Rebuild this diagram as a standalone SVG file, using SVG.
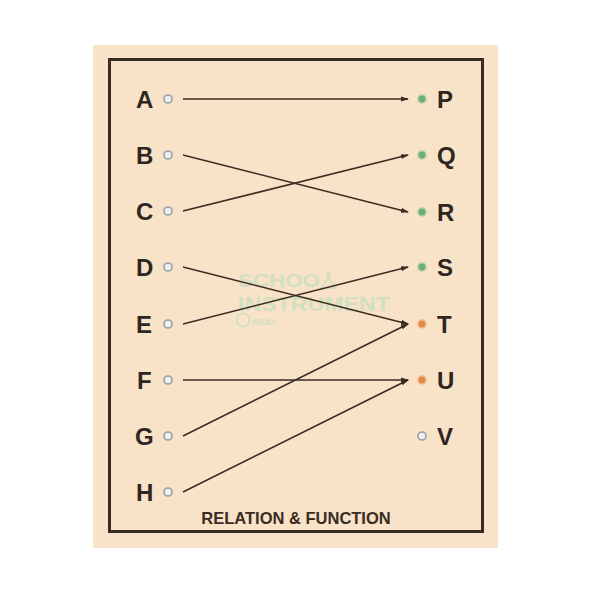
<svg xmlns="http://www.w3.org/2000/svg" width="600" height="600" viewBox="0 0 600 600">
<style>
.lbl{font-family:"Liberation Sans",Arial,sans-serif;font-weight:bold;font-size:24px;fill:#2e2620}
.dl{fill:#eef0f2;stroke:#9a9ea6;stroke-width:1.6}
.dg{fill:#6fae72;stroke:#a9cfa8;stroke-width:1.4}
.do{fill:#de8a44;stroke:#eeb88a;stroke-width:1.4}
.ln{stroke:#3a2c22;stroke-width:1.6;fill:none;marker-end:url(#ah)}
.wm{font-family:"Liberation Sans",Arial,sans-serif;font-weight:bold;fill:#cbe0bf;opacity:0.85}
</style>
<defs>
<marker id="ah" viewBox="0 0 8 6" refX="7" refY="3" markerWidth="5" markerHeight="4" orient="auto" markerUnits="strokeWidth">
<path d="M0,0.5 L8,3 L0,5.5 Z" fill="#3a2c22"/>
</marker>
</defs>
<rect width="600" height="600" fill="#ffffff"/>
<rect x="93" y="45" width="405" height="503" fill="#f8e2c8"/>
<rect x="109.5" y="59.5" width="373" height="472" fill="none" stroke="#3a2c22" stroke-width="3"/>
<g id="watermark">
<text class="wm" x="238" y="287" font-size="19" font-weight="normal" textLength="82" lengthAdjust="spacingAndGlyphs">SCHOO</text>
<path d="M328,272 l0,6 l-7,10 l15,0 l-7,-10 l0,-6 z" fill="none" stroke="#cbe0bf" stroke-width="1.5"/>
<text class="wm" x="238" y="311" font-size="20" textLength="152" lengthAdjust="spacingAndGlyphs">INSTRUMENT</text>
<circle cx="243" cy="320" r="6.5" fill="none" stroke="#cbe0bf" stroke-width="1.5"/>
<text class="wm" x="252" y="325" font-size="9" font-weight="normal">INDIA</text>
</g>
<g id="connectors">
<line class="ln" x1="183" y1="99" x2="408" y2="99"/>
<line class="ln" x1="183" y1="155" x2="408" y2="212"/>
<line class="ln" x1="183" y1="211" x2="408" y2="155"/>
<line class="ln" x1="183" y1="267" x2="408" y2="324"/>
<line class="ln" x1="183" y1="324" x2="408" y2="267"/>
<line class="ln" x1="183" y1="380" x2="408" y2="380"/>
<line class="ln" x1="183" y1="436" x2="408" y2="324"/>
<line class="ln" x1="183" y1="492" x2="408" y2="380"/>
</g>
<g id="node-A"><text class="lbl" x="136" y="108">A</text><circle class="dl" cx="168" cy="99" r="4"/></g>
<g id="node-B"><text class="lbl" x="136" y="164">B</text><circle class="dl" cx="168" cy="155" r="4"/></g>
<g id="node-C"><text class="lbl" x="136" y="220">C</text><circle class="dl" cx="168" cy="211" r="4"/></g>
<g id="node-D"><text class="lbl" x="136" y="276">D</text><circle class="dl" cx="168" cy="267" r="4"/></g>
<g id="node-E"><text class="lbl" x="136" y="333">E</text><circle class="dl" cx="168" cy="324" r="4"/></g>
<g id="node-F"><text class="lbl" x="137" y="389">F</text><circle class="dl" cx="168" cy="380" r="4"/></g>
<g id="node-G"><text class="lbl" x="135" y="445">G</text><circle class="dl" cx="168" cy="436" r="4"/></g>
<g id="node-H"><text class="lbl" x="136" y="501">H</text><circle class="dl" cx="168" cy="492" r="4"/></g>
<g id="node-P"><circle class="dg" cx="422" cy="99" r="4"/><text class="lbl" x="437" y="108">P</text></g>
<g id="node-Q"><circle class="dg" cx="422" cy="155" r="4"/><text class="lbl" x="437" y="164">Q</text></g>
<g id="node-R"><circle class="dg" cx="422" cy="212" r="4"/><text class="lbl" x="437" y="221">R</text></g>
<g id="node-S"><circle class="dg" cx="422" cy="267" r="4"/><text class="lbl" x="437" y="276">S</text></g>
<g id="node-T"><circle class="do" cx="422" cy="324" r="4"/><text class="lbl" x="437" y="333">T</text></g>
<g id="node-U"><circle class="do" cx="422" cy="380" r="4"/><text class="lbl" x="437" y="389">U</text></g>
<g id="node-V"><circle class="dl" cx="422" cy="436" r="4"/><text class="lbl" x="437" y="445">V</text></g>
<text x="296" y="524" text-anchor="middle" font-family="Liberation Sans,Arial,sans-serif" font-weight="bold" font-size="16.5" fill="#3a2c22">RELATION &amp; FUNCTION</text>
</svg>
